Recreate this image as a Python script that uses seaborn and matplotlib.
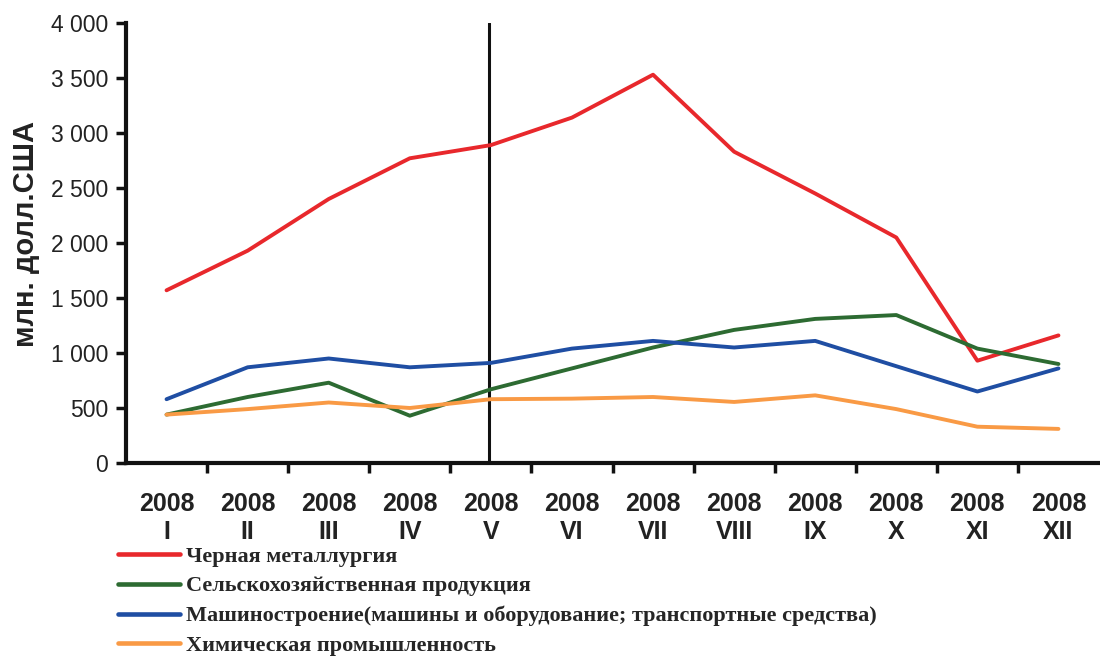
import matplotlib
matplotlib.use("Agg")
import matplotlib.pyplot as plt
import matplotlib.ticker as mticker
import seaborn as sns
import pandas as pd

months = ["I", "II", "III", "IV", "V", "VI", "VII", "VIII", "IX", "X", "XI", "XII"]
year = "2008"

series_names = [
    "Черная металлургия",
    "Сельскохозяйственная продукция",
    "Машиностроение(машины и оборудование; транспортные средства)",
    "Химическая промышленность",
]
metallurgy = [1570, 1930, 2400, 2770, 2890, 3140, 3530, 2830, 2450, 2050, 930, 1160]
agriculture = [440, 600, 730, 430, 670, 860, 1050, 1210, 1310, 1345, 1040, 900]
machinery = [580, 870, 950, 870, 910, 1040, 1110, 1050, 1110, 880, 650, 860]
chemistry = [440, 490, 550, 500, 580, 585, 600, 555, 615, 490, 330, 310]

colors = ["#e8282c", "#2d6b32", "#1f4ea3", "#f99a45"]
marker_month = "V"
y_ticks = [0, 500, 1000, 1500, 2000, 2500, 3000, 3500, 4000]

rows = []
for name, vals in zip(series_names, [metallurgy, agriculture, machinery, chemistry]):
    for m, v in zip(months, vals):
        rows.append({"month": m, "value": v, "series": name})
df = pd.DataFrame(rows)

sns.set_theme(style="white")
plt.rcParams["font.family"] = ["Liberation Sans", "DejaVu Sans"]

fig = plt.figure(figsize=(11, 6.6), dpi=100)
ax = fig.add_axes([126 / 1100, 1 - 463 / 660, (1099 - 126) / 1100, (463 - 23) / 660])

sns.lineplot(data=df, x="month", y="value", hue="series", hue_order=series_names,
             palette=colors, linewidth=2.8, ax=ax, sort=False, legend=True)

ax.axvline(months.index(marker_month) - 0.02, color="#111111", linewidth=2.2, zorder=1)

ax.set_xlim(-0.5, len(months) - 0.5)
ax.set_ylim(0, 4000)
ax.set_yticks(y_ticks)
ax.yaxis.set_major_formatter(mticker.FuncFormatter(lambda v, p: f"{int(v):,}".replace(",", " ")))
ax.tick_params(axis="y", which="major", direction="out", length=7, width=2.5,
               color="#111111", labelsize=16.5, labelcolor="#222222", pad=6, left=True)

# category boundary ticks (no labels) and centered labels
ax.set_xticks([i + 0.5 for i in range(len(months) - 1)])
ax.set_xticklabels([])
ax.set_xticks(range(len(months)), minor=True)
ax.set_xticklabels([f"{year}\n{m}" for m in months], minor=True,
                   fontsize=18, fontweight="bold", color="#222222")
ax.tick_params(axis="x", which="major", direction="out", length=7, width=2.5,
               color="#111111", bottom=True)
ax.tick_params(axis="x", which="minor", length=0, pad=21, bottom=True)

ax.set_xlabel("")
ax.set_ylabel("млн. долл.США", fontsize=21, fontweight="bold", color="#222222")
ax.yaxis.set_label_coords(-0.088, 0.52)

for side in ["top", "right"]:
    ax.spines[side].set_visible(False)
for side in ["left", "bottom"]:
    ax.spines[side].set_color("#111111")
    ax.spines[side].set_linewidth(3)
ax.grid(False)

handles, labels = ax.get_legend_handles_labels()
ax.get_legend().remove()
for h in handles:
    h.set_linewidth(3.3)
fig.legend(handles, labels, loc="upper left", bbox_to_anchor=(118 / 1100, 1 - 546 / 660),
           frameon=False, borderpad=0, borderaxespad=0, handlelength=2.8, handletextpad=0.25,
           labelspacing=0.42, prop={"family": "Liberation Serif", "size": 16, "weight": "bold"})

fig.savefig("out.png", dpi=100, facecolor="white")
